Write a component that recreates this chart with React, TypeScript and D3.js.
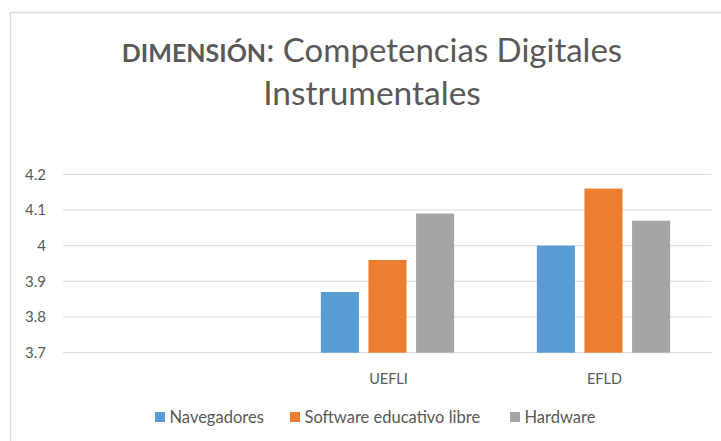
import React from "react";
import * as d3 from "d3";

// categories (first slot is empty in the original)
const categories = ["", "UEFLI", "EFLD"];
const seriesNames = ["Navegadores", "Software educativo libre", "Hardware"];
const navegadores = [null, 3.87, 4.0];
const software = [null, 3.96, 4.16];
const hardware = [null, 4.09, 4.07];
const yTicks = [3.7, 3.8, 3.9, 4.0, 4.1, 4.2];
const yTickLabels = ["3.7", "3.8", "3.9", "4", "4.1", "4.2"];

const colors = ["#5B9BD5", "#ED7D31", "#A5A5A5"];
const font = "Lato, 'Open Sans', sans-serif";
const textColor = "#595959";

export default function App() {
  const width = 721;
  const height = 441;
  const seriesValues = [navegadores, software, hardware];

  const x = d3.scaleBand<string>().domain(categories).range([63.5, 711.5]).padding(0);
  const bw = x.bandwidth();
  const xs = d3
    .scaleBand<string>()
    .domain(seriesNames)
    .range([bw * 0.1914, bw * 0.8086])
    .paddingInner(0.2)
    .paddingOuter(0);
  const y = d3.scaleLinear().domain([3.7, 4.2]).range([352.7, 174.3]);

  // legend layout
  const legendX = [155, 290, 510];

  return (
    <svg
      width={width}
      height={height}
      style={{ position: "absolute", left: 0, top: 0, background: "#fff" }}
      fontFamily={font}
    >
      <rect x={0} y={0} width={width} height={height} fill="#fff" />
      {/* chart border */}
      <rect x={10.5} y={12.5} width={width + 20} height={height + 20} fill="none" stroke="#D9D9D9" strokeWidth={1.3} />

      {/* title */}
      <text x={372} y={62} textAnchor="middle" fill={textColor}>
        <tspan fontWeight="bold" fontSize={25}>DIMENSIÓN</tspan>
        <tspan fontSize={33}>: Competencias Digitales</tspan>
      </text>
      <text x={372} y={104.5} textAnchor="middle" fill={textColor} fontSize={33.5}>
        Instrumentales
      </text>

      {/* gridlines */}
      {yTicks.map((t, i) => (
        <g key={`g${i}`}>
          <line x1={63} x2={711.5} y1={y(t)} y2={y(t)} stroke="#D9D9D9" strokeWidth={1} />
          <text x={46} y={y(t)} dy="0.36em" textAnchor="end" fontSize={15} fill={textColor}>
            {yTickLabels[i]}
          </text>
        </g>
      ))}

      {/* bars */}
      {categories.map((c) => (
        <g key={`c${c}`} transform={`translate(${x(c)},0)`}>
          {seriesNames.map((s, si) => {
            const v = seriesValues[si][categories.indexOf(c)];
            if (v == null) return null;
            return (
              <rect
                key={s}
                x={xs(s)}
                y={y(v)}
                width={xs.bandwidth()}
                height={y(3.7) - y(v)}
                fill={colors[si]}
              />
            );
          })}
          <text x={bw / 2 + 1} y={383.5} textAnchor="middle" fontSize={14.5} fill={textColor}>
            {c}
          </text>
        </g>
      ))}

      {/* legend */}
      {seriesNames.map((s, i) => (
        <g key={`l${s}`}>
          <rect x={legendX[i]} y={412} width={10} height={10} fill={colors[i]} />
          <text x={legendX[i] + 14.5} y={422.5} fontSize={16.5} fill={textColor}>
            {s}
          </text>
        </g>
      ))}
    </svg>
  );
}
